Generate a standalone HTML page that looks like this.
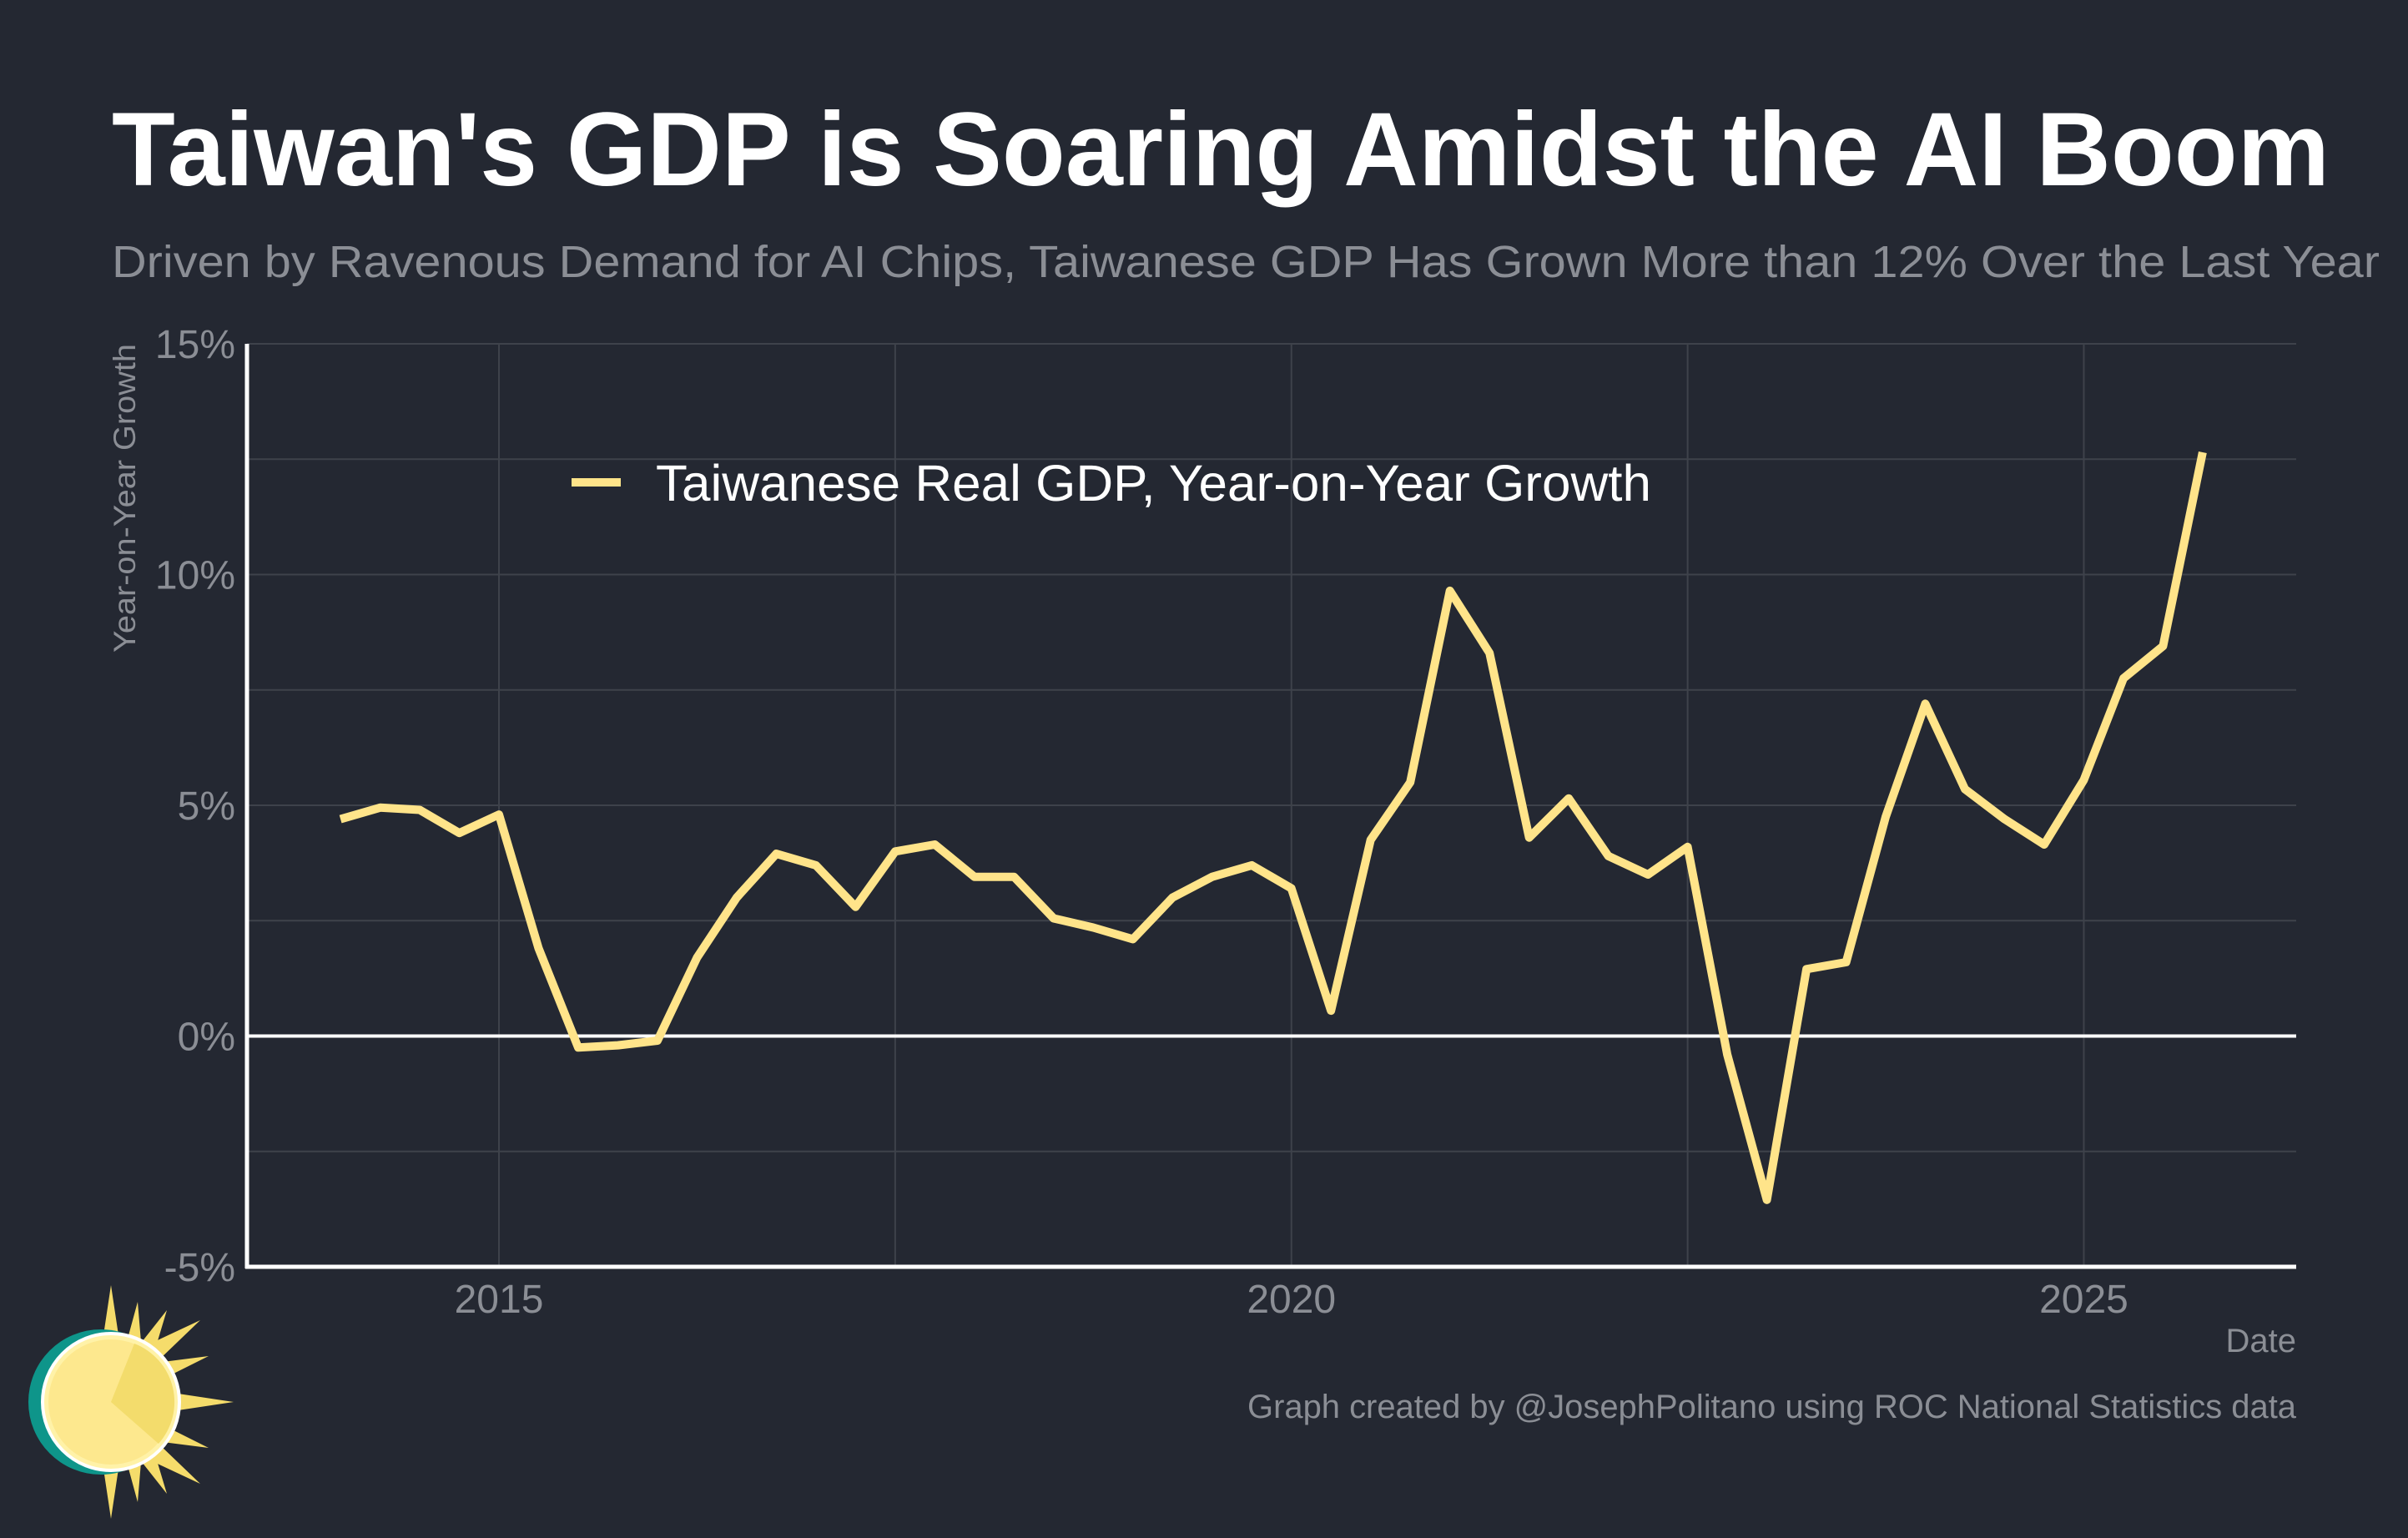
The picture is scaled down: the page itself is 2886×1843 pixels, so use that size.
<!DOCTYPE html>
<html><head><meta charset="utf-8">
<style>
html,body{margin:0;padding:0;background:#242832;}
svg{display:block;font-family:"Liberation Sans",Arial,sans-serif;}
</style></head>
<body>
<svg id="chart" width="2886" height="1843" viewBox="0 0 2886 1843">
<rect width="2886" height="1843" fill="#242832"/>
<text x="134" y="222" font-size="125" font-weight="bold" fill="#ffffff" textLength="2658" lengthAdjust="spacingAndGlyphs">Taiwan's GDP is Soaring Amidst the AI Boom</text>
<text x="134" y="332" font-size="54" fill="#8b8e95" textLength="2718" lengthAdjust="spacingAndGlyphs">Driven by Ravenous Demand for AI Chips, Taiwanese GDP Has Grown More than 12% Over the Last Year</text>
<g id="grid"></g>
<g id="axes"></g>
<g id="series"></g>
<text transform="translate(162,597) rotate(-90)" text-anchor="middle" font-size="37" fill="#8b8e95" textLength="370" lengthAdjust="spacingAndGlyphs">Year-on-Year Growth</text>
<text x="2752" y="1620" text-anchor="end" font-size="40" fill="#8b8e95">Date</text>
<text x="1495" y="1699" font-size="40" fill="#8b8e95" textLength="1257" lengthAdjust="spacingAndGlyphs">Graph created by @JosephPolitano using ROC National Statistics data</text>
<g>
<line x1="685" y1="578" x2="744" y2="578" stroke="#ffe48a" stroke-width="10"/>
<text x="786" y="600" font-size="61" fill="#ffffff" textLength="1193" lengthAdjust="spacingAndGlyphs">Taiwanese Real GDP, Year-on-Year Growth</text>
</g>
<g>
<g fill="#f5dc6b">
<polygon points="133,1540 145,1620 121,1620"/>
<polygon points="133,1820 145,1740 121,1740"/>
<polygon points="280,1680 200,1668 200,1692"/>
<polygon points="240,1582 190,1630 176,1612"/>
<polygon points="240,1778 190,1730 176,1748"/>
<polygon points="165,1560 170,1620 150,1615"/>
<polygon points="165,1800 170,1740 150,1745"/>
<polygon points="250,1625 200,1650 195,1632"/>
<polygon points="250,1735 200,1710 195,1728"/>
<polygon points="200,1570 185,1620 170,1608"/>
<polygon points="200,1790 185,1740 170,1752"/>
</g>
<circle cx="121" cy="1680" r="87" fill="#0e958a"/>
<circle cx="133" cy="1680" r="82" fill="#fff2a8" stroke="#ffffff" stroke-width="4"/>
<circle cx="133" cy="1680" r="75" fill="#fde88e"/>
<path d="M133,1680 L161,1610 A75,75 0 0,1 190,1730 Z" fill="#f3dc6c"/>
</g>
</svg>
<script>
const years = [2014.00,2014.25,2014.50,2014.75,2015.00,2015.25,2015.50,2015.75,2016.00,2016.25,2016.50,2016.75,2017.00,2017.25,2017.50,2017.75,2018.00,2018.25,2018.50,2018.75,2019.00,2019.25,2019.50,2019.75,2020.00,2020.25,2020.50,2020.75,2021.00,2021.25,2021.50,2021.75,2022.00,2022.25,2022.50,2022.75,2023.00,2023.25,2023.50,2023.75,2024.00,2024.25,2024.50,2024.75,2025.00,2025.25,2025.50,2025.75];
const growth = [4.7,4.95,4.9,4.4,4.8,1.9,-0.25,-0.2,-0.1,1.7,3.0,3.95,3.7,2.8,4.0,4.15,3.45,3.45,2.55,2.35,2.1,3.0,3.45,3.7,3.2,0.55,4.25,5.5,9.65,8.3,4.3,5.15,3.9,3.5,4.1,-0.4,-3.55,1.45,1.6,4.75,7.2,5.35,4.7,4.15,5.55,7.75,8.45,12.65];
const yTicks = [-5,0,5,10,15];
const yTickLabels = ["-5%","0%","5%","10%","15%"];
const xTicks = [2015,2020,2025];
const xTickLabels = ["2015","2020","2025"];
const yGrid = [-2.5,2.5,7.5,12.5];
const xGrid = [2017.5,2022.5];

const NS="http://www.w3.org/2000/svg";
const L=296,R=2752,T=412,B=1518;
const xMin=2013.41,xMax=2026.34,yMin=-5,yMax=15;
const xs=v=>L+(v-xMin)/(xMax-xMin)*(R-L);
const ys=v=>B-(v-yMin)/(yMax-yMin)*(B-T);
function mk(tag,attrs,parent){const e=document.createElementNS(NS,tag);for(const k in attrs)e.setAttribute(k,attrs[k]);parent.appendChild(e);return e;}
const grid=document.getElementById('grid'),axes=document.getElementById('axes'),series=document.getElementById('series');
yTicks.concat(yGrid).forEach(v=>{
  const l=mk('line',{x1:L,x2:R,y1:ys(v),y2:ys(v),stroke:'#3e424b','stroke-width':2},grid);
  
  
});
xTicks.concat(xGrid).forEach(v=>{
  const l=mk('line',{x1:xs(v),x2:xs(v),y1:T,y2:B,stroke:'#3e424b','stroke-width':2},grid);
  
  
});
yTicks.forEach((v,i)=>{
  const t=mk('text',{x:282,y:ys(v)+17,'text-anchor':'end','font-size':48,fill:'#8b8e95'},axes);
  t.textContent=yTickLabels[i];
  
  
});
xTicks.forEach((v,i)=>{
  const t=mk('text',{x:xs(v),y:1573,'text-anchor':'middle','font-size':48,fill:'#8b8e95'},axes);
  t.textContent=xTickLabels[i];
  
  
});
const zl=mk('line',{x1:L,x2:R,y1:ys(0),y2:ys(0),stroke:'#ffffff','stroke-width':4},axes);


const ya=mk('line',{x1:L,x2:L,y1:T,y2:B+2,stroke:'#ffffff','stroke-width':5},axes);


const xa=mk('line',{x1:L-2,x2:R,y1:B,y2:B,stroke:'#ffffff','stroke-width':5},axes);


const pts=years.map((y,i)=>xs(y).toFixed(1)+','+ys(growth[i]).toFixed(1)).join(' ');
const pl=mk('polyline',{points:pts,fill:'none',stroke:'#ffe48a','stroke-width':10,'stroke-linejoin':'round'},series);


</script>
</body></html>
